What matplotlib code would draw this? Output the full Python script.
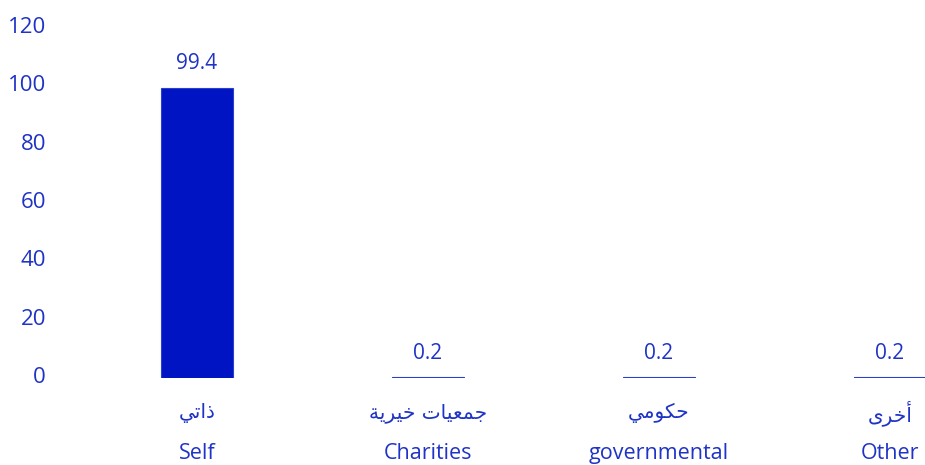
import matplotlib
matplotlib.use("Agg")
import matplotlib.pyplot as plt
from matplotlib import transforms

# Data
categories_en = ["Self", "Charities", "governmental", "Other"]
# Arabic labels in presentation (shaped, visual-order) forms
categories_ar = [
    "\uFEF2\uFE97\uFE8D\uFEAB",                                   # ذاتي
    "\uFE94\uFEF3\uFEAE\uFEF4\uFEA7 \uFE95\uFE8E\uFEF4\uFECC\uFEE4\uFE9F",  # جمعيات خيرية
    "\uFEF2\uFEE3\uFEEE\uFEDC\uFEA3",                             # حكومي
    "\uFEEF\uFEAE\uFEA7\uFE83",                                   # أخرى
]
values = [99.4, 0.2, 0.2, 0.2]
y_ticks = [0, 20, 40, 60, 80, 100, 120]

bar_color = "#0014C3"
text_color = "#1F33C6"

W, H = 925, 465
fig = plt.figure(figsize=(W / 100, H / 100), dpi=100)
ax = fig.add_axes([60 / W, 87 / H, 865 / W, 350 / H])

x = list(range(len(values)))
bars = ax.bar(x, values, width=0.316, color=bar_color, edgecolor="#2a40cc", linewidth=0.8)

ax.set_ylim(0, 120)
ax.set_xlim(-137 / 231, 3 + 35 / 231)
ax.set_yticks(y_ticks)
ax.set_yticklabels([str(t) for t in y_ticks], fontsize=16, color=text_color,
                   family="Open Sans")
ax.tick_params(axis="y", length=0, pad=10)
shift = transforms.ScaledTranslation(0, 3 / 100, fig.dpi_scale_trans)
for lab in ax.get_yticklabels():
    lab.set_transform(lab.get_transform() + shift)
ax.set_xticks([])
for s in ax.spines.values():
    s.set_visible(False)

for xi, v in zip(x, values):
    ax.annotate(f"{v:g}", (xi, v), xytext=(0, 17.5), textcoords="offset points",
                ha="center", va="center", fontsize=15, color=text_color,
                family="Open Sans")

trans = transforms.blended_transform_factory(ax.transData, fig.transFigure)
for xi, ar, en in zip(x, categories_ar, categories_en):
    ax.text(xi, 1 - 413 / H, ar, transform=trans, ha="center", va="center",
            fontsize=14.5, color=text_color, family="DejaVu Sans")
    ax.text(xi, 1 - 453 / H, en, transform=trans, ha="center", va="center",
            fontsize=15.5, color=text_color, family="Open Sans")

fig.savefig("out.png", dpi=100)
